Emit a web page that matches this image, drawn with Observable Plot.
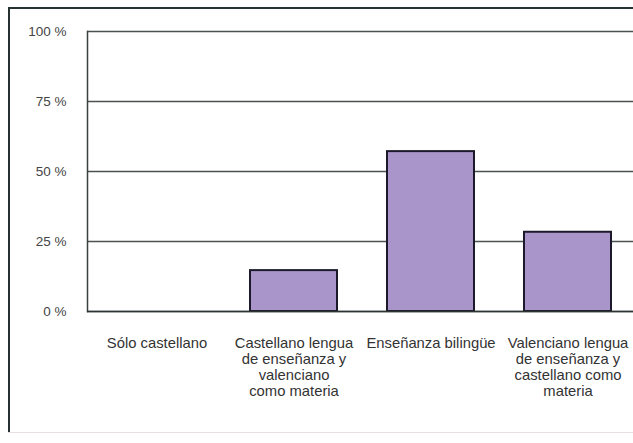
<!DOCTYPE html>
<html>
<head>
<meta charset="utf-8">
<script src="https://cdn.jsdelivr.net/npm/d3@7"></script>
<script src="https://cdn.jsdelivr.net/npm/@observablehq/plot@0.6"></script>
<style>
  html, body { margin: 0; padding: 0; background: #fff; overflow: hidden; width: 633px; height: 443px; }
  .edge { position: absolute; z-index: 2; pointer-events: none; }
  #top { left: 8px; top: 7px; width: 640px; height: 2px; background: #263232; }
  #left { left: 8px; top: 7px; width: 2px; height: 426px; background: #263232; }
  #bottom { left: 8px; top: 432px; width: 640px; height: 1px; background: #eadfe0; }
  #chart { position: absolute; left: 0; top: 0; width: 640px; z-index: 1; }
</style>
</head>
<body>
<div id="chart"></div>
<div class="edge" id="top"></div>
<div class="edge" id="left"></div>
<div class="edge" id="bottom"></div>
<script>
const categories = [
  "Sólo castellano",
  "Castellano lengua\nde enseñanza y\nvalenciano\ncomo materia",
  "Enseñanza bilingüe",
  "Valenciano lengua\nde enseñanza y\ncastellano como\nmateria"
];
const values = [0, 14.6, 57.1, 28.3];
const yTicks = [0, 25, 50, 75, 100];

const data = categories.map((c, i) => ({category: c, value: values[i]}));

const chart = Plot.plot({
  width: 640,
  height: 443,
  marginTop: 31,
  marginBottom: 132,
  marginLeft: 87,
  marginRight: 3,
  style: {fontFamily: "'Liberation Sans', Arial, sans-serif", color: "#333", background: "transparent", maxWidth: "none"},
  x: {domain: categories, paddingInner: 0.367, paddingOuter: 0.1835, label: null},
  y: {domain: [0, 100], label: null},
  marks: [
    Plot.ruleY(yTicks, {stroke: "#4a5252", strokeWidth: 1.3}),
    Plot.frame({anchor: "left", stroke: "#3a4242", strokeWidth: 1.5}),
    Plot.barY(data, {x: "category", y: "value", fill: "#a995ca", stroke: "#1c1a2a", strokeWidth: 2}),
    Plot.ruleY([0], {stroke: "#2e3434", strokeWidth: 1.5}),
    Plot.axisY({ticks: yTicks, tickSize: 0, tickPadding: 21, tickFormat: d => d + " %", fontSize: 13.5, fill: "#444"}),
    Plot.axisX({tickSize: 0, tickPadding: 25, fontSize: 14.8, lineHeight: 1.08, fill: "#333", textAnchor: "middle", lineAnchor: "top", label: null})
  ]
});
chart.style.maxWidth = "none";
document.getElementById("chart").appendChild(chart);
</script>
</body>
</html>
